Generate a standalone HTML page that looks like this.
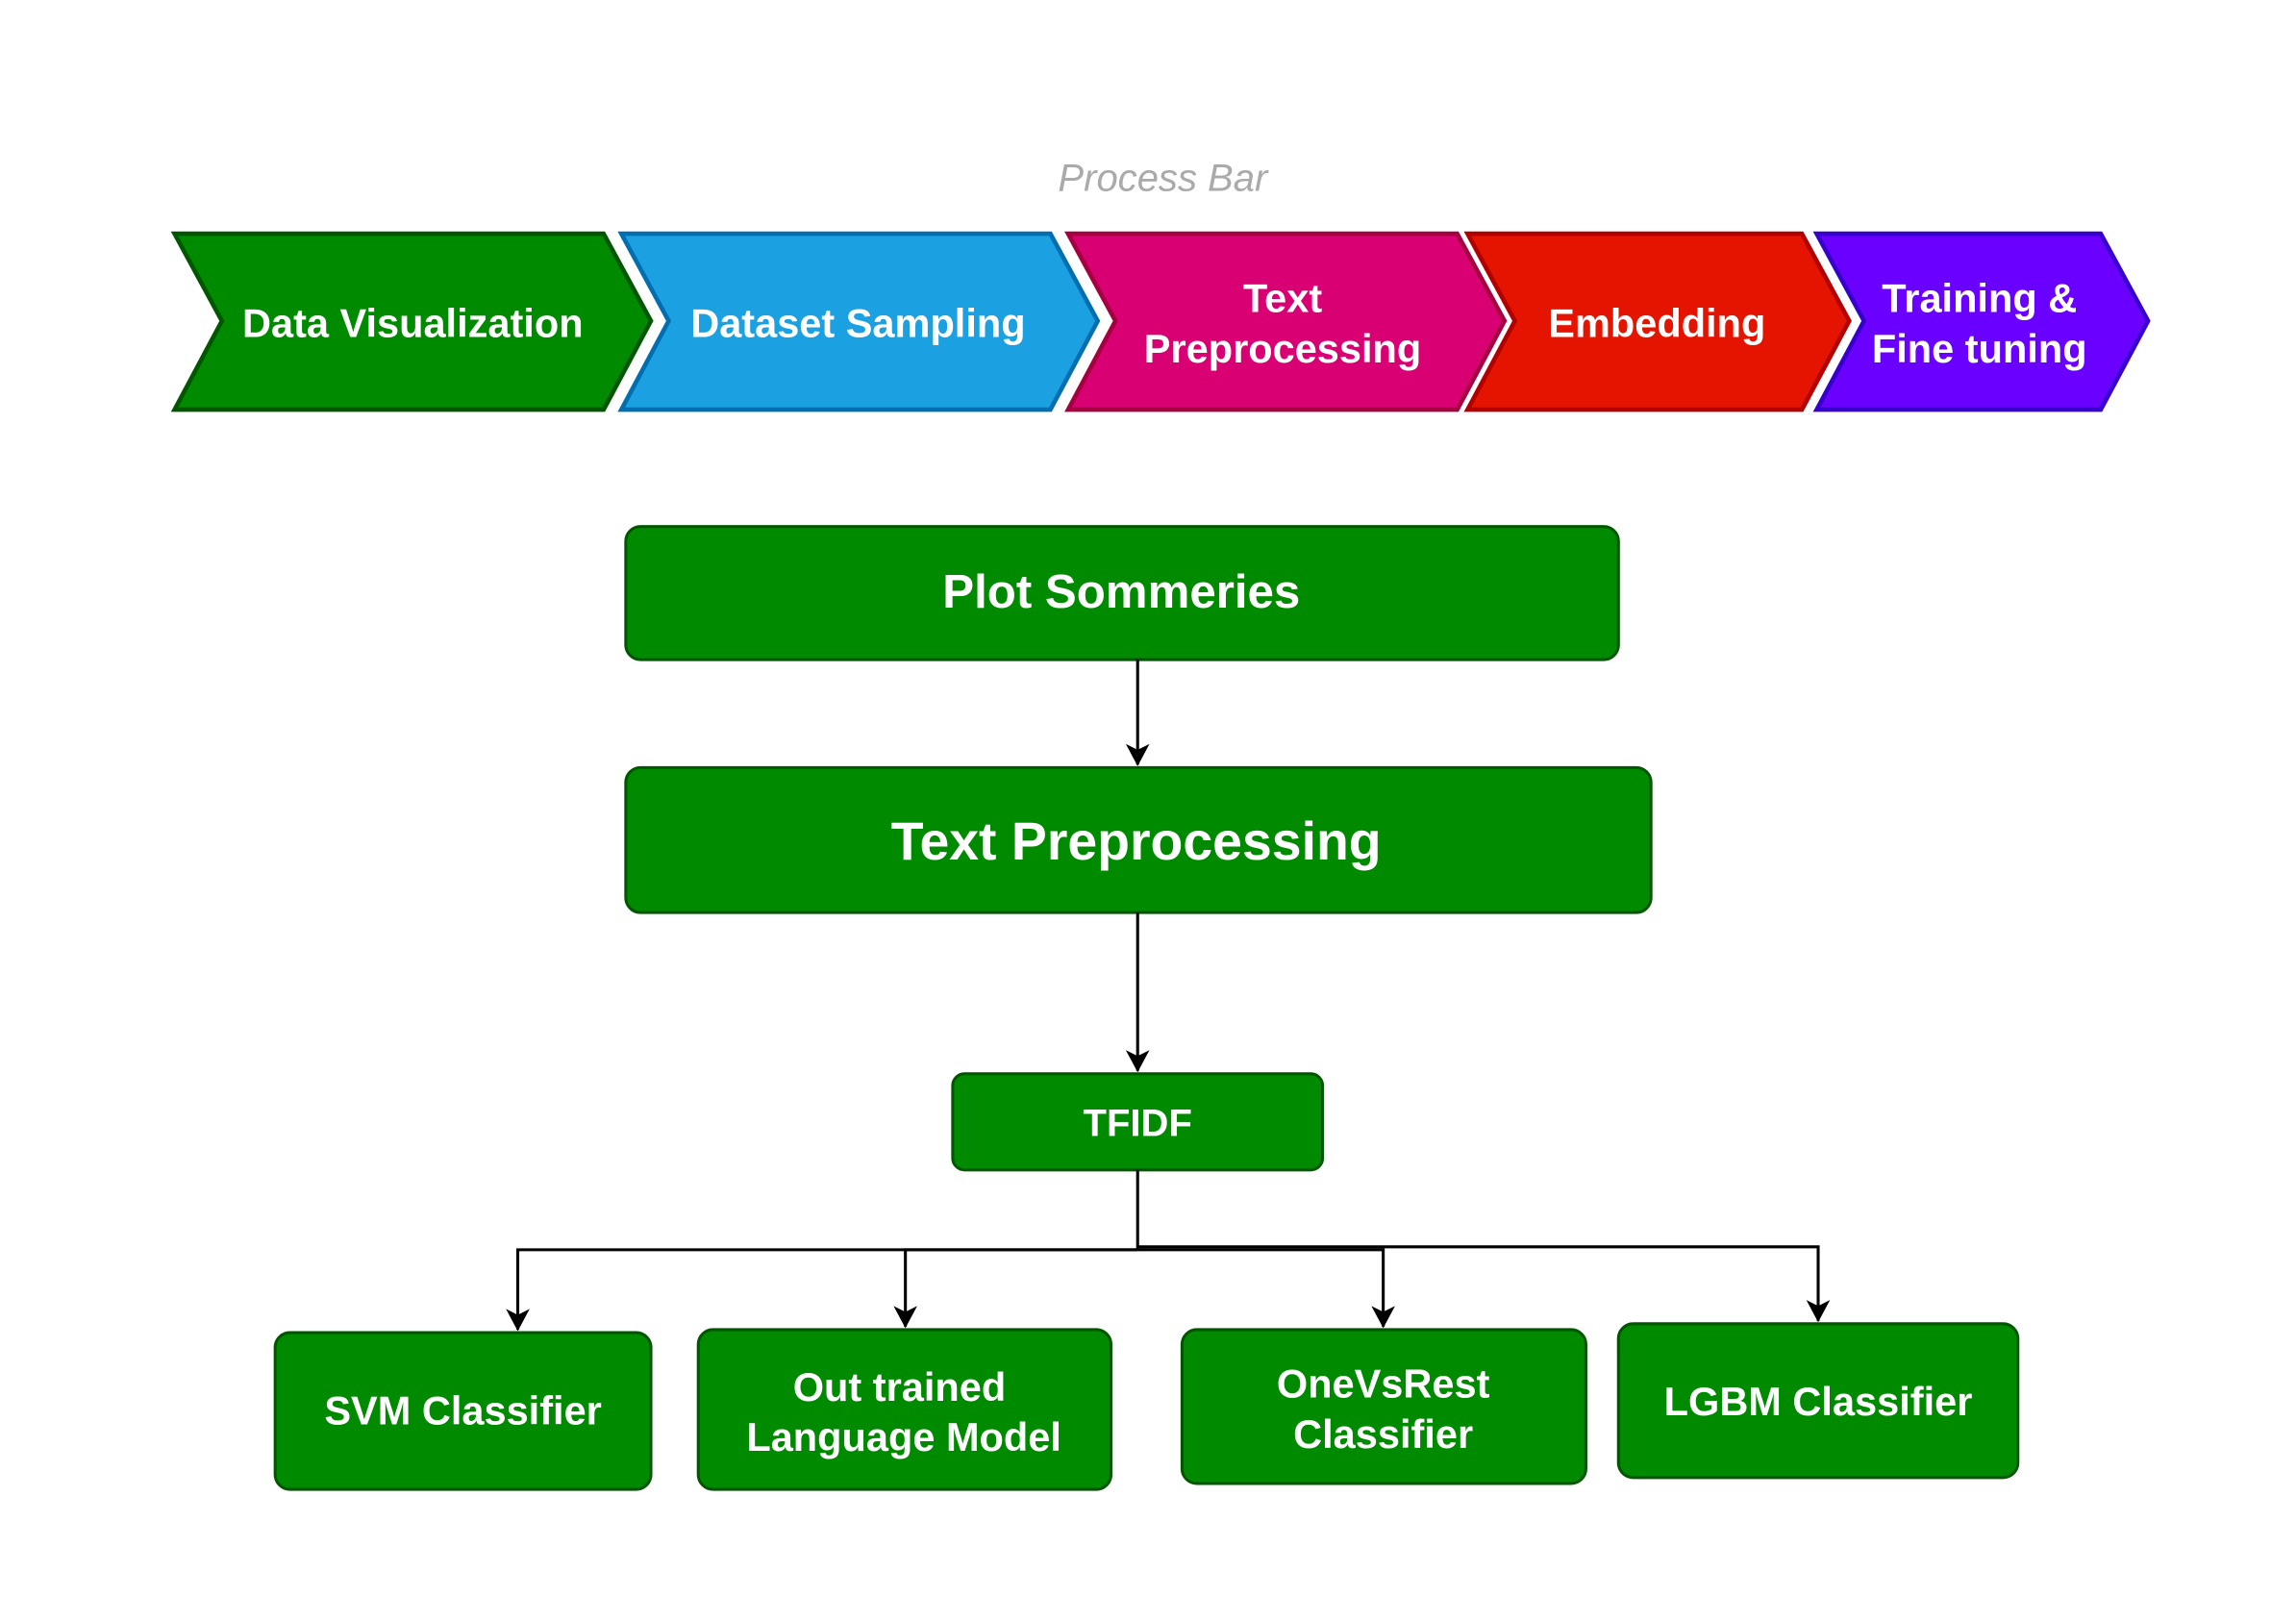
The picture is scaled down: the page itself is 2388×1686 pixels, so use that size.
<!DOCTYPE html>
<html><head><meta charset="utf-8"><style>
html,body{margin:0;padding:0;background:#fff;}
svg{display:block;}
text{font-family:"Liberation Sans",Arial,sans-serif;}
</style></head><body>
<svg width="2388" height="1686" viewBox="0 0 1552 1096" preserveAspectRatio="none" xmlns="http://www.w3.org/2000/svg">
<defs>
<marker id="a" markerWidth="16" markerHeight="18" refX="14" refY="8" orient="auto" markerUnits="userSpaceOnUse">
<path d="M0,0 L15,8 L0,16 L4,8 Z" fill="#000"/>
</marker>
</defs>
<rect width="1552" height="1096" fill="#fff"/>
<text x="786" y="129" font-size="26" font-style="italic" fill="#aaaaaa" text-anchor="middle">Process Bar</text>
<g stroke-width="3" font-weight="bold" font-size="28" fill="#fff" text-anchor="middle">
<polygon points="118,158 408,158 440,217 408,277 118,277 150,217" fill="#008a00" stroke="#005700"/>
<polygon points="420,158 710,158 742,217 710,277 420,277 452,217" fill="#1ba1e2" stroke="#006eaf"/>
<polygon points="722,158 985,158 1017,217 985,277 722,277 754,217" fill="#d80073" stroke="#a50040"/>
<polygon points="992,158 1218,158 1250,217 1218,277 992,277 1024,217" fill="#e51400" stroke="#b20000"/>
<polygon points="1228,158 1420,158 1452,217 1420,277 1228,277 1260,217" fill="#6a00ff" stroke="#3700cc"/>
</g>
<g font-weight="bold" font-size="27" fill="#fff" text-anchor="middle">
<text x="279" y="228">Data Visualization</text>
<text x="580" y="228">Dataset Sampling</text>
<text x="867" y="211">Text</text>
<text x="867" y="245">Preprocessing</text>
<text x="1120" y="228">Embedding</text>
<text x="1338" y="211">Training &amp;</text>
<text x="1338" y="245">Fine tuning</text>
</g>
<g fill="#008a00" stroke="#005700" stroke-width="2">
<rect x="423" y="356" width="671" height="90" rx="10"/>
<rect x="423" y="519" width="693" height="98" rx="10"/>
<rect x="644" y="726" width="250" height="65" rx="8"/>
<rect x="186" y="901" width="254" height="106" rx="10"/>
<rect x="472" y="899" width="279" height="108" rx="10"/>
<rect x="799" y="899" width="273" height="104" rx="10"/>
<rect x="1094" y="895" width="270" height="104" rx="10"/>
</g>
<g font-weight="bold" fill="#fff" text-anchor="middle">
<text x="758" y="411" font-size="32">Plot Sommeries</text>
<text x="768" y="581" font-size="36">Text Preprocessing</text>
<text x="769" y="768" font-size="26">TFIDF</text>
<text x="313" y="963" font-size="27">SVM Classifier</text>
<text x="608" y="947" font-size="27">Out trained</text>
<text x="611" y="981" font-size="27">Language Model</text>
<text x="935" y="945" font-size="27">OneVsRest</text>
<text x="935" y="979" font-size="27">Classifier</text>
<text x="1229" y="957" font-size="27">LGBM Classifier</text>
</g>
<g stroke="#000" stroke-width="2" fill="none">
<line x1="769" y1="446" x2="769" y2="517" marker-end="url(#a)"/>
<line x1="769" y1="617" x2="769" y2="724" marker-end="url(#a)"/>
<line x1="769" y1="791" x2="769" y2="845"/>
<polyline points="769,845 350,845 350,899" marker-end="url(#a)"/>
<polyline points="769,845 612,845 612,897" marker-end="url(#a)"/>
<polyline points="769,845 935,845 935,897" marker-end="url(#a)"/>
<polyline points="769,843 1229,843 1229,893" marker-end="url(#a)"/>
</g>
</svg>
</body></html>
